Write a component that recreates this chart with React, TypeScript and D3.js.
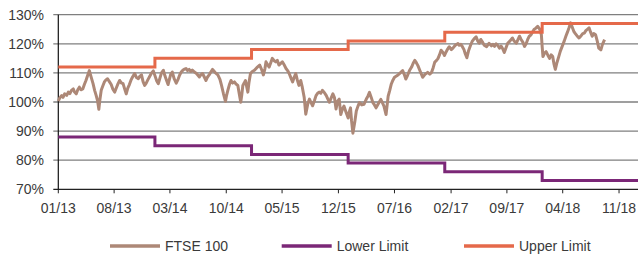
import React from "react";
import * as d3 from "d3";

const xTickLabels = ["01/13", "08/13", "03/14", "10/14", "05/15", "12/15", "07/16", "02/17", "09/17", "04/18", "11/18"];
const yTicks = [70, 80, 90, 100, 110, 120, 130];

const limitDates = ["2013-01-01", "2014-01-03", "2015-01-05", "2016-01-07", "2017-01-08", "2018-01-13", "2019-01-12"];
const upperLimit = [112, 115, 118, 121, 124, 127, 127];
const lowerLimit = [88, 85, 82, 79, 76, 73, 73];

const ftse: [string, number][] = [
  ["2013-01-01", 100.3], ["2013-01-07", 101.5], ["2013-01-14", 102.2], ["2013-01-19", 101.6], ["2013-01-25", 102.8],
  ["2013-02-02", 102.3], ["2013-02-08", 103.4], ["2013-02-14", 102.9], ["2013-02-20", 104.0], ["2013-02-27", 104.5],
  ["2013-03-03", 103.5], ["2013-03-10", 102.8], ["2013-03-16", 104.2], ["2013-03-22", 105.1], ["2013-03-28", 104.2],
  ["2013-04-04", 104.5], ["2013-04-10", 106.0], ["2013-04-16", 107.4], ["2013-04-23", 109.3], ["2013-04-29", 110.8],
  ["2013-05-05", 108.8], ["2013-05-13", 106.3], ["2013-05-19", 104.0], ["2013-05-25", 102.2], ["2013-05-30", 100.5],
  ["2013-06-04", 97.5], ["2013-06-08", 100.8], ["2013-06-13", 104.0], ["2013-06-19", 105.5], ["2013-06-25", 106.9],
  ["2013-07-01", 107.6], ["2013-07-07", 108.0], ["2013-07-14", 107.0], ["2013-07-21", 106.0], ["2013-07-27", 104.5],
  ["2013-08-03", 103.4], ["2013-08-10", 105.0], ["2013-08-16", 106.3], ["2013-08-22", 107.4], ["2013-08-28", 106.6],
  ["2013-09-04", 106.3], ["2013-09-10", 104.5], ["2013-09-16", 102.8], ["2013-09-22", 104.8], ["2013-09-28", 106.0],
  ["2013-10-04", 107.5], ["2013-10-10", 108.6], ["2013-10-18", 109.8], ["2013-10-25", 108.4], ["2013-11-01", 108.0],
  ["2013-11-07", 108.9], ["2013-11-13", 109.3], ["2013-11-19", 107.0], ["2013-11-25", 105.7], ["2013-12-01", 106.5],
  ["2013-12-07", 107.6], ["2013-12-13", 108.6], ["2013-12-20", 109.8], ["2013-12-28", 110.7],
  ["2014-01-04", 108.8], ["2014-01-10", 107.2], ["2014-01-16", 106.3], ["2014-01-22", 108.2], ["2014-01-28", 110.0],
  ["2014-02-04", 110.9], ["2014-02-10", 109.0], ["2014-02-16", 107.5], ["2014-02-22", 106.0], ["2014-02-27", 107.8],
  ["2014-03-04", 109.5], ["2014-03-10", 110.3], ["2014-03-17", 108.0], ["2014-03-25", 106.5], ["2014-04-01", 107.8],
  ["2014-04-07", 109.3], ["2014-04-13", 110.3], ["2014-04-19", 110.9], ["2014-04-25", 111.3], ["2014-05-01", 111.5],
  ["2014-05-07", 110.8], ["2014-05-13", 111.2], ["2014-05-19", 110.5], ["2014-05-25", 111.0], ["2014-06-02", 110.3],
  ["2014-06-10", 109.8], ["2014-06-21", 108.6], ["2014-06-26", 109.3], ["2014-07-03", 109.8], ["2014-07-10", 108.5],
  ["2014-07-16", 107.4], ["2014-07-22", 108.6], ["2014-07-28", 109.3], ["2014-08-04", 110.4], ["2014-08-10", 111.2],
  ["2014-08-19", 110.2], ["2014-08-30", 109.3], ["2014-09-07", 107.8], ["2014-09-13", 105.7], ["2014-09-20", 103.0],
  ["2014-09-28", 100.2], ["2014-10-02", 102.2], ["2014-10-07", 104.0], ["2014-10-13", 106.0], ["2014-10-19", 107.4],
  ["2014-10-25", 106.5], ["2014-11-01", 106.9], ["2014-11-07", 106.2], ["2014-11-14", 105.7], ["2014-11-19", 103.0],
  ["2014-11-25", 99.9], ["2014-11-29", 102.5], ["2014-12-03", 105.7], ["2014-12-08", 106.5], ["2014-12-13", 107.4],
  ["2014-12-17", 105.5], ["2014-12-22", 103.4], ["2014-12-26", 106.5],
  ["2015-01-01", 109.8], ["2015-01-08", 110.5], ["2015-01-16", 110.9], ["2015-01-25", 111.8], ["2015-02-05", 112.7],
  ["2015-02-13", 111.0], ["2015-02-19", 109.3], ["2015-02-25", 111.5], ["2015-03-01", 113.8], ["2015-03-07", 112.8],
  ["2015-03-13", 112.0], ["2015-03-19", 113.5], ["2015-03-25", 115.0], ["2015-04-01", 114.2], ["2015-04-07", 113.8],
  ["2015-04-13", 114.3], ["2015-04-19", 112.7], ["2015-04-25", 113.2], ["2015-05-02", 113.8], ["2015-05-10", 112.6],
  ["2015-05-16", 111.5], ["2015-05-22", 110.8], ["2015-05-28", 109.8], ["2015-06-04", 108.2], ["2015-06-10", 106.9],
  ["2015-06-16", 108.5], ["2015-06-22", 109.8], ["2015-06-28", 107.5], ["2015-07-04", 105.7], ["2015-07-11", 107.4],
  ["2015-07-17", 105.0], ["2015-07-24", 101.6], ["2015-07-30", 95.8], ["2015-08-07", 99.5], ["2015-08-13", 101.0],
  ["2015-08-19", 99.8], ["2015-08-25", 98.7], ["2015-09-01", 100.5], ["2015-09-07", 102.2], ["2015-09-13", 103.0],
  ["2015-09-19", 103.4], ["2015-09-25", 103.0], ["2015-10-01", 104.0], ["2015-10-09", 103.2], ["2015-10-16", 102.2],
  ["2015-10-22", 101.0], ["2015-10-28", 99.9], ["2015-11-04", 101.5], ["2015-11-10", 102.8], ["2015-11-16", 101.5],
  ["2015-11-22", 97.6], ["2015-11-28", 100.3], ["2015-12-04", 101.0], ["2015-12-10", 95.7], ["2015-12-16", 97.5],
  ["2015-12-22", 98.6], ["2015-12-30", 96.5],
  ["2016-01-07", 94.5], ["2016-01-11", 96.5], ["2016-01-16", 98.0], ["2016-01-20", 93.5], ["2016-01-25", 89.3],
  ["2016-02-01", 93.0], ["2016-02-07", 96.9], ["2016-02-13", 98.5], ["2016-02-19", 99.8], ["2016-02-28", 99.0],
  ["2016-03-07", 99.2], ["2016-03-16", 101.0], ["2016-03-22", 102.0], ["2016-03-28", 103.3], ["2016-04-04", 101.5],
  ["2016-04-10", 99.8], ["2016-04-16", 99.0], ["2016-04-22", 98.0], ["2016-05-01", 99.5], ["2016-05-10", 100.9],
  ["2016-05-16", 99.8], ["2016-05-22", 98.6], ["2016-05-30", 95.7], ["2016-06-07", 102.0], ["2016-06-13", 104.0],
  ["2016-06-19", 106.2], ["2016-06-25", 107.5], ["2016-07-01", 108.5], ["2016-07-10", 109.0], ["2016-07-19", 109.7],
  ["2016-07-25", 110.2], ["2016-08-01", 110.8], ["2016-08-07", 109.5], ["2016-08-13", 107.9], ["2016-08-19", 109.0],
  ["2016-08-27", 110.8], ["2016-09-04", 112.0], ["2016-09-10", 113.3], ["2016-09-16", 114.3], ["2016-09-22", 113.5],
  ["2016-09-28", 112.5], ["2016-10-07", 110.5], ["2016-10-16", 108.5], ["2016-10-25", 109.5], ["2016-11-04", 110.2],
  ["2016-11-12", 109.6], ["2016-11-19", 110.2], ["2016-11-25", 111.8], ["2016-12-01", 113.7], ["2016-12-07", 114.2],
  ["2016-12-13", 114.9], ["2016-12-19", 116.2], ["2016-12-25", 117.8],
  ["2017-01-01", 117.0], ["2017-01-07", 116.0], ["2017-01-13", 117.2], ["2017-01-19", 118.2], ["2017-01-25", 119.0],
  ["2017-02-02", 118.0], ["2017-02-08", 118.5], ["2017-02-16", 119.4], ["2017-02-22", 119.8], ["2017-02-27", 120.1],
  ["2017-03-04", 119.5], ["2017-03-10", 119.8], ["2017-03-16", 119.0], ["2017-03-22", 118.0], ["2017-03-26", 116.8],
  ["2017-04-02", 115.2], ["2017-04-08", 117.5], ["2017-04-16", 119.5], ["2017-04-22", 120.8], ["2017-04-30", 121.8],
  ["2017-05-07", 122.4], ["2017-05-13", 121.0], ["2017-05-19", 120.2], ["2017-05-25", 121.5], ["2017-06-01", 120.5],
  ["2017-06-07", 119.5], ["2017-06-16", 119.0], ["2017-06-25", 120.2], ["2017-07-04", 119.3], ["2017-07-10", 119.8],
  ["2017-07-16", 119.1], ["2017-07-22", 120.0], ["2017-07-28", 119.5], ["2017-08-04", 118.5], ["2017-08-10", 119.2],
  ["2017-08-16", 118.3], ["2017-08-22", 117.0], ["2017-08-28", 118.5], ["2017-09-04", 120.2], ["2017-09-13", 121.0],
  ["2017-09-22", 122.0], ["2017-09-28", 121.0], ["2017-10-07", 120.2], ["2017-10-13", 121.4], ["2017-10-19", 122.6],
  ["2017-10-25", 121.5], ["2017-11-01", 120.5], ["2017-11-07", 119.1], ["2017-11-13", 120.0], ["2017-11-19", 121.5],
  ["2017-11-25", 122.6], ["2017-12-01", 123.0], ["2017-12-07", 124.0], ["2017-12-13", 124.9], ["2017-12-19", 125.3],
  ["2017-12-27", 126.0],
  ["2018-01-04", 125.0], ["2018-01-10", 123.1], ["2018-01-13", 119.0], ["2018-01-16", 115.6], ["2018-01-22", 116.8],
  ["2018-01-28", 117.3], ["2018-02-04", 116.0], ["2018-02-10", 115.0], ["2018-02-16", 116.2], ["2018-02-22", 115.6],
  ["2018-02-27", 113.0], ["2018-03-04", 111.2], ["2018-03-10", 113.5], ["2018-03-17", 115.6], ["2018-03-23", 117.5],
  ["2018-03-30", 119.1], ["2018-04-07", 121.0], ["2018-04-13", 122.6], ["2018-04-19", 124.0], ["2018-04-25", 125.5],
  ["2018-05-01", 127.2], ["2018-05-07", 125.8], ["2018-05-13", 124.3], ["2018-05-19", 123.5], ["2018-05-25", 122.8],
  ["2018-06-02", 122.0], ["2018-06-10", 122.8], ["2018-06-16", 123.5], ["2018-06-22", 123.7], ["2018-06-28", 124.5],
  ["2018-07-04", 125.0], ["2018-07-10", 125.5], ["2018-07-16", 124.0], ["2018-07-22", 122.6], ["2018-07-28", 123.5],
  ["2018-08-04", 123.1], ["2018-08-10", 121.0], ["2018-08-16", 118.5], ["2018-08-24", 117.9], ["2018-08-30", 119.8],
  ["2018-09-07", 121.4],
];

const seriesNames = ["FTSE 100", "Lower Limit", "Upper Limit"];
const seriesColors = ["#ad8877", "#7b2777", "#e5694a"];

const W = 640;
const H = 255;
const FONT = "'Liberation Sans', Arial, Helvetica, sans-serif";

export default function App() {
  const parse = d3.timeParse("%Y-%m-%d");
  const parseTick = d3.timeParse("%m/%y");

  const x = d3
    .scaleTime()
    .domain([parse("2013-01-01")!, parse("2019-01-12")!])
    .range([58.3, 638]);
  const y = d3.scaleLinear().domain([70, 130]).range([189.3, 14.7]);

  const line = d3
    .line<[Date, number]>()
    .x((d) => x(d[0]))
    .y((d) => y(d[1]));
  const stepLine = d3
    .line<[Date, number]>()
    .x((d) => x(d[0]))
    .y((d) => y(d[1]))
    .curve(d3.curveStepAfter);

  const ftseData: [Date, number][] = ftse.map(([d, v]) => [parse(d)!, v]);
  const upperData: [Date, number][] = limitDates.map((d, i) => [parse(d)!, upperLimit[i]]);
  const lowerData: [Date, number][] = limitDates.map((d, i) => [parse(d)!, lowerLimit[i]]);

  const x0 = x.range()[0];
  const x1 = x.range()[1];

  const legendX = [110, 281.7, 464];
  const legendY = 246;

  return (
    <svg
      width={W}
      height={H}
      style={{ position: "absolute", left: 0, top: 0, background: "#fff" }}
      fontFamily={FONT}
    >
      {/* gridlines */}
      {yTicks
        .filter((t) => t !== 70)
        .map((t) => (
          <line key={"g" + t} x1={x0 - 5} x2={x1} y1={y(t)} y2={y(t)} stroke="#7f7f7f" strokeWidth={1.3} />
        ))}
      {/* y tick labels */}
      {yTicks.map((t) => (
        <text key={"yl" + t} x={44} y={y(t)} dy="0.35em" textAnchor="end" fontSize={14} fill="#3a3a3a">
          {t}%
        </text>
      ))}
      {/* x axis */}
      <line x1={x0 - 5} x2={x1} y1={y(70)} y2={y(70)} stroke="#222" strokeWidth={1.2} />
      {xTickLabels.map((lab) => {
        const d = parseTick(lab)!;
        const xx = x(d);
        return (
          <g key={"xt" + lab}>
            <line x1={xx} x2={xx} y1={y(70)} y2={y(70) + 4} stroke="#222" strokeWidth={1} />
            <text x={xx} y={213} textAnchor="middle" fontSize={14} fill="#3a3a3a">
              {lab}
            </text>
          </g>
        );
      })}
      {/* y axis line */}
      <line x1={x0} x2={x0} y1={y(130)} y2={y(70)} stroke="#111" strokeWidth={1.2} />

      {/* series */}
      <path d={line(ftseData)!} fill="none" stroke={seriesColors[0]} strokeWidth={3} strokeLinejoin="round" />
      <path d={stepLine(lowerData)!} fill="none" stroke={seriesColors[1]} strokeWidth={3} />
      <path d={stepLine(upperData)!} fill="none" stroke={seriesColors[2]} strokeWidth={3} />

      {/* legend */}
      {seriesNames.map((name, i) => (
        <g key={"lg" + name}>
          <line
            x1={legendX[i]}
            x2={legendX[i] + 50}
            y1={legendY}
            y2={legendY}
            stroke={seriesColors[i]}
            strokeWidth={3.3}
          />
          <text x={legendX[i] + 55} y={legendY} dy="0.35em" fontSize={14} fill="#3a3a3a">
            {name}
          </text>
        </g>
      ))}
    </svg>
  );
}
